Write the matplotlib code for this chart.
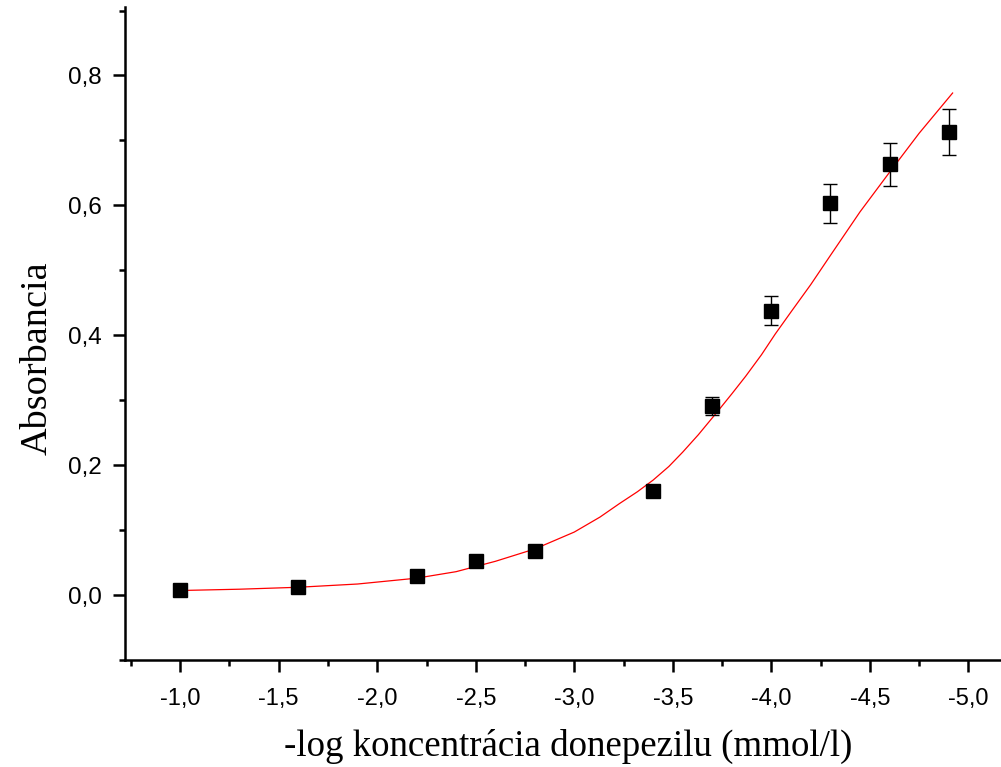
import numpy as np
import matplotlib.pyplot as plt
from matplotlib.ticker import MultipleLocator, FuncFormatter
from matplotlib import font_manager

# measured points (-log c, absorbance, error)
conc = [-1.0, -1.6, -2.2, -2.5, -2.8, -3.4, -3.7, -4.0, -4.3, -4.6, -4.9]
absorb = [0.008, 0.013, 0.030, 0.053, 0.068, 0.160, 0.291, 0.438, 0.603, 0.663, 0.713]
err = [0.003, 0.003, 0.004, 0.004, 0.004, 0.005, 0.014, 0.022, 0.030, 0.033, 0.035]

# fitted curve
fit_x = [-1.0, -1.3, -1.6, -1.9, -2.2, -2.4, -2.6, -2.8, -3.0, -3.13, -3.23,
         -3.32, -3.4, -3.48, -3.55, -3.63, -3.72, -3.8, -3.87, -3.95, -4.02,
         -4.1, -4.2, -4.3, -4.45, -4.6, -4.75, -4.92]
fit_y = [0.007, 0.009, 0.012, 0.017, 0.026, 0.036, 0.052, 0.071, 0.097, 0.120,
         0.141, 0.159, 0.177, 0.198, 0.220, 0.247, 0.280, 0.310, 0.337, 0.370,
         0.402, 0.436, 0.478, 0.523, 0.590, 0.651, 0.711, 0.773]

names = {f.name for f in font_manager.fontManager.ttflist}
narrow = 'Liberation Sans Narrow' if 'Liberation Sans Narrow' in names else 'Liberation Sans'

fig = plt.figure(figsize=(10.01, 7.67), dpi=100)
ax = fig.add_axes([0.1249, 0.1395, 0.874, 0.851])

ax.plot(fit_x, fit_y, color='red', lw=0.9, zorder=2)
ax.errorbar(conc, absorb, yerr=err, fmt='s', color='black', ms=10,
            ecolor='black', elinewidth=1.0, capsize=5, capthick=1.0, zorder=3)

ax.set_xlim(-0.72, -5.16)
ax.set_ylim(-0.1, 0.905)

for side in ['top', 'right']:
    ax.spines[side].set_visible(False)
for side in ['left', 'bottom']:
    ax.spines[side].set_linewidth(1.8)

ax.xaxis.set_major_locator(MultipleLocator(0.5))
ax.xaxis.set_minor_locator(MultipleLocator(0.25))
ax.yaxis.set_major_locator(MultipleLocator(0.2))
ax.yaxis.set_minor_locator(MultipleLocator(0.1))
comma = FuncFormatter(lambda v, p: f'{v:.1f}'.replace('.', ',').replace('-0,0', '0,0'))
ax.xaxis.set_major_formatter(comma)
ax.yaxis.set_major_formatter(comma)

ax.tick_params(which='major', direction='out', length=8.5, width=1.8)
ax.tick_params(which='minor', direction='out', length=4.5, width=1.8)
ax.tick_params(axis='x', pad=12)
ax.tick_params(axis='y', pad=8)

for lab in ax.get_xticklabels():
    lab.set_family([narrow, 'DejaVu Sans'])
    lab.set_fontsize(17)
for lab in ax.get_yticklabels():
    lab.set_family(['Liberation Sans'])
    lab.set_fontsize(17.5)

ax.set_xlabel('-log koncentrácia donepezilu (mmol/l)', family='Liberation Serif',
              fontsize=26.6, labelpad=13)
ax.set_ylabel('Absorbancia', family='Liberation Serif', fontsize=27.5, labelpad=10)
ax.xaxis.label.set_x(0.507)
ax.yaxis.label.set_y(0.4625)

fig.savefig('out.png', dpi=100)
